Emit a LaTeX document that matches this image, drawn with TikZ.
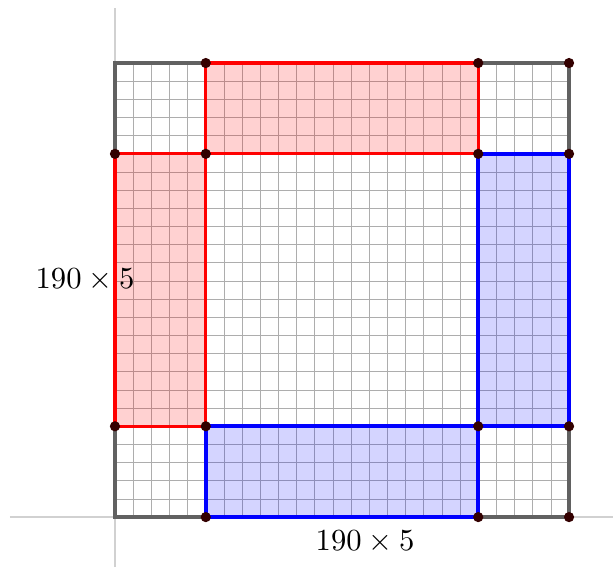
\documentclass[tikz,border=0pt]{standalone}
\begin{document}
\begin{tikzpicture}[x=0.5cm,y=0.5cm,
  axisline/.style={draw=black!18,line width=1.2pt},
  gridline/.style={draw=black!32,line width=0.55pt},
  border/.style={draw=black!62,line width=3.1pt},
  redband/.style={draw=red,line width=2.4pt,fill=red,fill opacity=0.18},
  blueband/.style={draw=blue,line width=3.2pt,fill=blue,fill opacity=0.17},
  pt/.style={circle,fill=black!80!red,inner sep=0pt,minimum size=8pt},
  lab/.style={scale=2.4}]
\useasboundingbox (-6.33,-2.75) rectangle (27.42,28.47);
% axes
\draw[axisline] (-5.78,0) -- (27.42,0);
\draw[axisline] (0,-2.75) -- (0,28.03);
% grid
\draw[gridline,step=0.5cm] (0,0) grid (25,25);
% outer square
\draw[border] (0,0) rectangle (25,25);
% bands
\path[redband] (5,20) rectangle (20,25);
\path[redband] (0,5) rectangle (5,20);
\path[blueband] (20,5) rectangle (25,20);
\path[blueband] (5,0) rectangle (20,5);
% points
\foreach \n/\x/\y in {a/5/25,b/20/25,c/25/25,d/0/20,e/5/20,f/20/20,g/25/20,h/0/5,i/5/5,j/20/5,k/25/5,l/5/0,m/20/0,n/25/0}
  \node[pt] (\n) at (\x,\y) {};
% labels
\node[lab] (left) at (-1.65,13.05) {$190\times5$};
\node[lab] (bottom) at (13.77,-1.38) {$190\times5$};
\end{tikzpicture}
\end{document}
